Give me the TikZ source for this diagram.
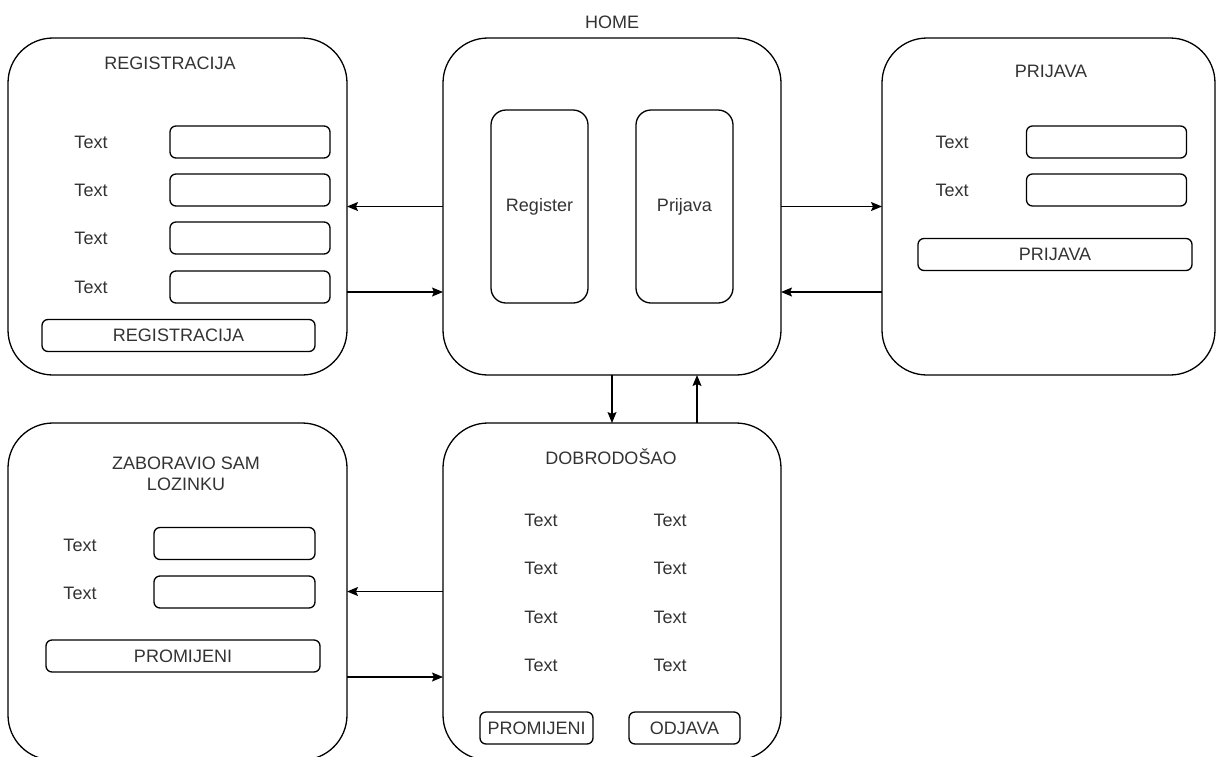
\documentclass[tikz,border=0pt]{standalone}
\usepackage{fontspec}
\setmainfont{Liberation Sans}
\usetikzlibrary{arrows.meta}
\begin{document}
\begin{tikzpicture}[x=1pt, y=-1pt, line width=1.3pt,
  every node/.style={font=\fontsize{18}{21}\selectfont, text=black!80, inner sep=0pt, outer sep=0pt},
  page/.style={draw, rounded corners=45pt, minimum width=338pt, minimum height=337pt},
  field/.style={draw, rounded corners=6pt, minimum width=160pt, minimum height=32pt},
  btn/.style={draw, rounded corners=6pt, minimum height=32pt},
  tab/.style={draw, rounded corners=15pt, minimum width=97pt, minimum height=193pt},
  link/.style={-{Stealth[length=11pt,width=9pt,inset=2pt]}}]
\useasboundingbox (0,0) rectangle (1216,756);
\clip (0,0) rectangle (1216,756);
% registracija
\node[page, minimum width=339pt] (reg) at (177.5,206.5){};
\node (regt) at (170,63){REGISTRACIJA};
\node (regl1) at (91,142){Text};
\node (regl2) at (91,190){Text};
\node (regl3) at (91,238){Text};
\node (regl4) at (91,287){Text};
\node[field] (regf1) at (250,142){};
\node[field] (regf2) at (250,190){};
\node[field] (regf3) at (250,238){};
\node[field] (regf4) at (250,287){};
\node[btn, minimum width=273pt] (regb) at (178.5,335.5){REGISTRACIJA};
% home
\node[page] (home) at (612,206.5){};
\node (homet) at (612,22){HOME};
\node[tab] (homer) at (539.5,206.5){Register};
\node[tab] (homep) at (684.5,206.5){Prijava};
% prijava
\node[page, minimum width=333pt] (prij) at (1048.5,206.5){};
\node (prijt) at (1051,71){PRIJAVA};
\node (prijl1) at (952,142){Text};
\node (prijl2) at (952,190){Text};
\node[field] (prijf1) at (1106.5,142){};
\node[field] (prijf2) at (1106.5,190){};
\node[btn, minimum width=274pt] (prijb) at (1055,254.5){PRIJAVA};
% zaboravio sam lozinku
\node[page, minimum width=339pt] (zab) at (177.5,591.5){};
\node[align=center] (zabt) at (186,474){ZABORAVIO SAM\\LOZINKU};
\node (zabl1) at (80,545){Text};
\node (zabl2) at (80,593){Text};
\node[field, minimum width=161pt] (zabf1) at (234.5,543.5){};
\node[field, minimum width=161pt] (zabf2) at (234.5,592){};
\node[btn, minimum width=274pt] (zabb) at (183,656){PROMIJENI};
% dobrodosao
\node[page] (dob) at (612,591.5){};
\node (dobt) at (611,457){DOBRODOŠAO};
\foreach \y [count=\i] in {520,568,617,665}{
  \node (dobl\i) at (541,\y){Text};
  \node (dobr\i) at (670,\y){Text};
}
\node[btn, minimum width=113pt] (dobb1) at (536.5,728){PROMIJENI};
\node[btn, minimum width=111pt] (dobb2) at (684.5,728){ODJAVA};
% veze
\draw[link](home.west) -- (reg.east);
\draw[link]([yshift=-85.5pt]reg.east) -- ([yshift=-85.5pt]home.west);
\draw[link](home.east) -- (prij.west);
\draw[link]([yshift=-85.5pt]prij.west) -- ([yshift=-85.5pt]home.east);
\draw[link](home.south) -- (dob.north);
\draw[link]([xshift=85pt]dob.north) -- ([xshift=85pt]home.south);
\draw[link](dob.west) -- (zab.east);
\draw[link]([yshift=-85.5pt]zab.east) -- ([yshift=-85.5pt]dob.west);
\end{tikzpicture}
\end{document}
